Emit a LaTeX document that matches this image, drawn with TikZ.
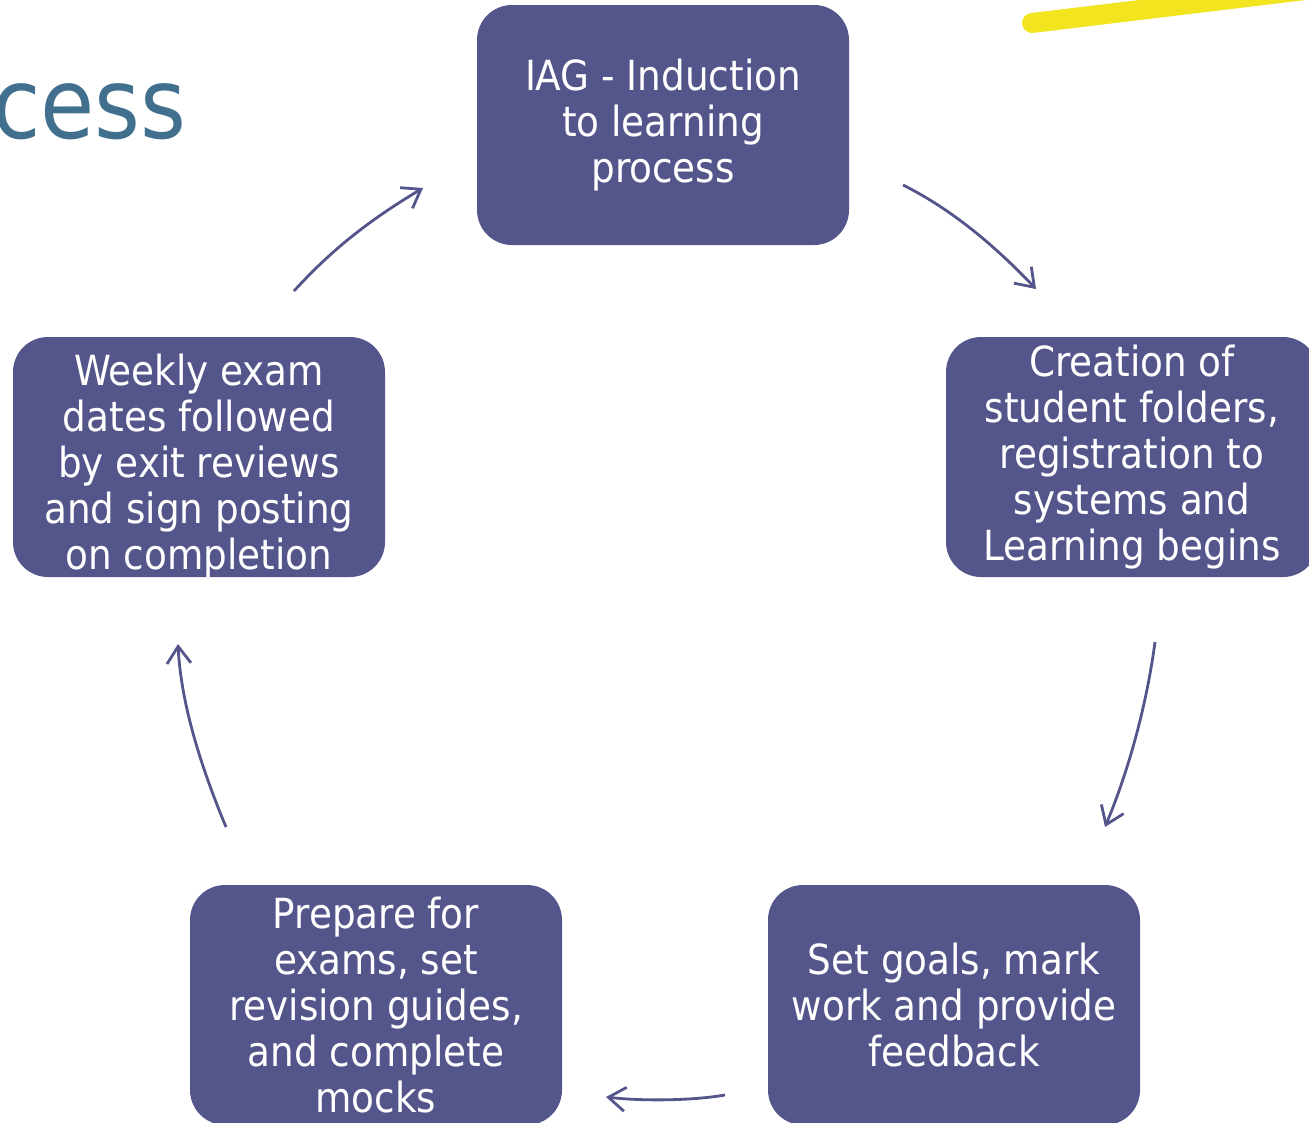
\documentclass[tikz,border=0pt]{standalone}
\usepackage{fontspec}
\setmainfont{DejaVu Sans Condensed}
\usetikzlibrary{arrows.meta}
\definecolor{boxc}{RGB}{84,85,138}
\definecolor{titlec}{RGB}{65,112,143}
\definecolor{yel}{RGB}{242,228,30}
\begin{document}
\begin{tikzpicture}[x=1pt,y=-1pt,
  box/.style={fill=boxc, rounded corners=35pt, minimum width=372pt,
    minimum height=240pt, inner sep=0pt},
  boxtext/.style={text=white, align=center, inner sep=0pt,
    font=\fontsize{41.5}{46}\selectfont},
  arr/.style={draw=boxc, line width=2.8pt,
    -{Straight Barb[length=17pt,width=24pt,line width=2.8pt]}}]
\useasboundingbox (0,0) rectangle (1309,1122);
\clip (0,0) rectangle (1309,1122);

% title fragment
\node[anchor=base east, text=titlec, inner sep=0pt,
  font=\fontsize{98}{100}\selectfont] (title) at (187,138) {cess};

% yellow stroke
\draw[yel, line width=20pt, line cap=round] (1032,23) -- (1330,-13);

% boxes
\node[box] (iag) at (663,125) {};
\node[boxtext] (iagt) at (iag.center) {IAG - Induction\\to learning\\process};

\node[box] (cre) at (1132,457) {};
\node[boxtext] (cret) at (cre.center) {Creation of\\student folders,\\registration to\\systems and\\Learning begins};

\node[box] (set) at (954,1005) {};
\node[boxtext] (sett) at (set.center) {Set goals, mark\\work and provide\\feedback};

\node[box] (pre) at (376,1005) {};
\node[boxtext] (pret) at (pre.center) {Prepare for\\exams, set\\revision guides,\\and complete\\mocks};

\node[box] (wk) at (199,457) {};
\node[boxtext] (wkt) at ([yshift=-9pt]wk.center) {Weekly exam\\dates followed\\by exit reviews\\and sign posting\\on completion};

% arrow end points
\coordinate (a1s) at (903,185);  \coordinate (a1e) at (1036,289);
\coordinate (a2s) at (1155,642); \coordinate (a2e) at (1105,827);
\coordinate (a3s) at (725,1095); \coordinate (a3e) at (606,1097);
\coordinate (a4s) at (226,827);  \coordinate (a4e) at (178,644);
\coordinate (a5s) at (294,291);  \coordinate (a5e) at (423,188);

\draw[arr] (a1s) .. controls (953,210) and (996,247) .. (a1e);
\draw[arr] (a2s) .. controls (1147,702) and (1130,767) .. (a2e);
\draw[arr] (a3s) .. controls (690,1101) and (640,1101) .. (a3e);
\draw[arr] (a4s) .. controls (201,767) and (181,704) .. (a4e);
\draw[arr] (a5s) .. controls (334,247) and (373,218) .. (a5e);
\end{tikzpicture}
\end{document}
